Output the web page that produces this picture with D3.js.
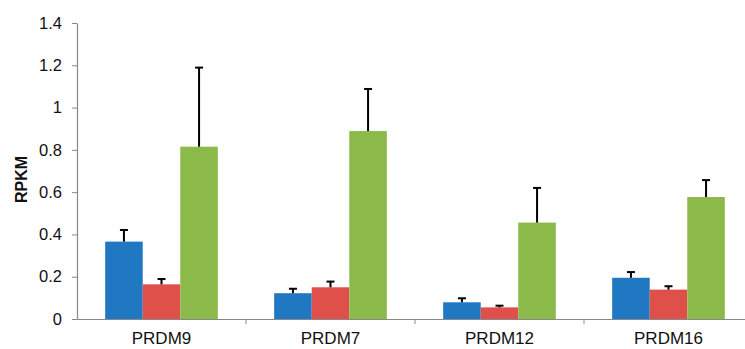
<!DOCTYPE html>
<html>
<head>
<meta charset="utf-8">
<script src="https://cdn.jsdelivr.net/npm/d3@7"></script>
<style>
  body { margin: 0; background: #fff; }
  text { font-family: "Liberation Sans", Arial, sans-serif; }
</style>
</head>
<body>
<div class="chart"></div>
<script>
// gene categories and the three series (bar value + top of error bar)
const genes = ['PRDM9', 'PRDM7', 'PRDM12', 'PRDM16'];
const seriesNames = ['s1', 's2', 's3'];
const blueVals = [0.366, 0.122, 0.079, 0.195];
const blueErr  = [0.055, 0.021, 0.019, 0.027];
const redVals  = [0.164, 0.150, 0.055, 0.139];
const redErr   = [0.025, 0.027, 0.008, 0.016];
const greenVals = [0.815, 0.889, 0.456, 0.577];
const greenErr  = [0.374, 0.199, 0.164, 0.080];
const yTicks = [0, 0.2, 0.4, 0.6, 0.8, 1, 1.2, 1.4];

const colors = ['#1f78c1', '#e0504b', '#8cba4a'];

const width = 745;
const height = 349;
const margin = {left: 77, right: -8, top: 23, bottom: 30};

const svg = d3.select('.chart')
    .append('svg')
    .attr('width', width)
    .attr('height', height);

// x scales: one band per gene, then a sub-band per series
const x = d3.scaleBand()
    .domain(genes)
    .range([margin.left, width - margin.right])
    .paddingInner(0)
    .paddingOuter(0);

const xSub = d3.scaleBand()
    .domain(seriesNames)
    .range([0, x.bandwidth()])
    .paddingOuter(0.75)
    .paddingInner(0);

const y = d3.scaleLinear()
    .domain([0, 1.4])
    .range([height - margin.bottom, margin.top]);

// build rows for drawing
const allVals = [blueVals, redVals, greenVals];
const allErr = [blueErr, redErr, greenErr];
const rows = [];
genes.forEach((g, i) => {
    seriesNames.forEach((s, j) => {
        rows.push({gene: g, series: s, idx: j, value: allVals[j][i], err: allErr[j][i]});
    });
});

//bars
svg.selectAll('rect.bar')
    .data(rows)
    .enter()
    .append('rect')
    .attr('class', 'bar')
    .attr('x', d => x(d.gene) + xSub(d.series))
    .attr('width', xSub.bandwidth())
    .attr('y', d => y(d.value))
    .attr('height', d => y(0) - y(d.value))
    .attr('fill', d => colors[d.idx]);

//error bars (upper only)
const errG = svg.selectAll('g.err')
    .data(rows)
    .enter()
    .append('g')
    .attr('class', 'err')
    .attr('stroke', '#000')
    .attr('stroke-width', 2);

errG.append('line')
    .attr('x1', d => x(d.gene) + xSub(d.series) + xSub.bandwidth() / 2)
    .attr('x2', d => x(d.gene) + xSub(d.series) + xSub.bandwidth() / 2)
    .attr('y1', d => y(d.value))
    .attr('y2', d => y(d.value + d.err));

errG.append('line')
    .attr('x1', d => x(d.gene) + xSub(d.series) + xSub.bandwidth() / 2 - 4)
    .attr('x2', d => x(d.gene) + xSub(d.series) + xSub.bandwidth() / 2 + 4)
    .attr('y1', d => y(d.value + d.err))
    .attr('y2', d => y(d.value + d.err));

// y axis
const yAxis = svg.append('g')
    .attr('transform', `translate(${margin.left},0)`)
    .call(d3.axisLeft(y).tickValues(yTicks).tickFormat(d3.format('~g')).tickSize(5).tickSizeOuter(0).tickPadding(10));
yAxis.select('.domain').attr('stroke', '#888').attr('stroke-width', 1.2);
yAxis.selectAll('.tick line').attr('stroke', '#888');
yAxis.selectAll('.tick text').style('font-size', '16.5px').attr('fill', '#111');

// x axis
const xAxis = svg.append('g')
    .attr('transform', `translate(0,${y(0)})`)
    .call(d3.axisBottom(x).tickSize(0).tickPadding(13));
xAxis.select('.domain').attr('stroke', '#888').attr('stroke-width', 1.2);
xAxis.selectAll('.tick text').style('font-size', '17px').attr('fill', '#111');

// separators between categories
svg.selectAll('line.sep')
    .data(genes.slice(1))
    .enter()
    .append('line')
    .attr('class', 'sep')
    .attr('x1', d => x(d))
    .attr('x2', d => x(d))
    .attr('y1', y(0))
    .attr('y2', y(0) + 5)
    .attr('stroke', '#888');

// y label
svg.append('text')
    .text('RPKM')
    .attr('transform', `translate(27,${y(0.66)}) rotate(-90)`)
    .attr('text-anchor', 'middle')
    .style('font-size', '16px')
    .attr('font-weight', 'bold')
    .attr('fill', '#111');
</script>
</body>
</html>
